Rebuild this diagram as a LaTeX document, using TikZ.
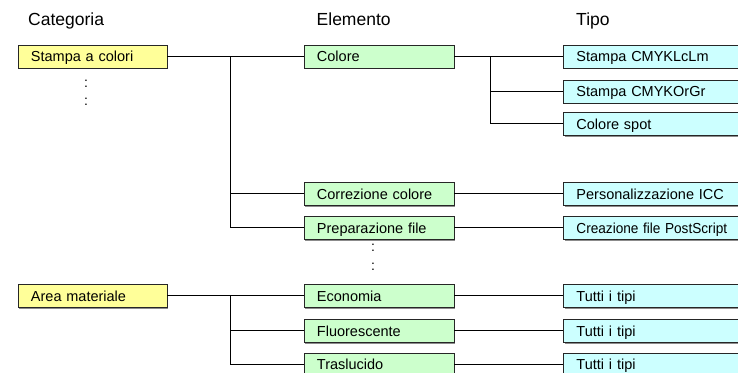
\documentclass[tikz,border=0pt]{standalone}
\usepackage{fontspec}
\setmainfont{Liberation Sans}
\usetikzlibrary{shadows}
\definecolor{catfill}{HTML}{FFFF99}
\definecolor{elfill}{HTML}{CCFFCC}
\definecolor{tipofill}{HTML}{CCFFFF}

\begin{document}
\begin{tikzpicture}[x=1bp,y=-1bp,
  box/.style={draw=black!85, line width=0.9bp, rectangle, anchor=north west,
    minimum height=23bp, text height=10.7bp, text depth=0pt, inner xsep=13bp,
    align=left, font=\fontsize{14.5bp}{17bp}\selectfont,
    drop shadow={shadow xshift=1.2bp, shadow yshift=-1.2bp, fill=black!45, opacity=1}},
  cat/.style={box, fill=catfill, text width=123bp},
  el/.style={box, fill=elfill, text width=124bp},
  tipo/.style={box, fill=tipofill, text width=180bp},
  head/.style={anchor=base west, inner sep=0pt, font=\fontsize{17.5bp}{20bp}\selectfont},
  link/.style={draw=black, line width=1bp},
  more/.style={inner sep=0pt, font=\fontsize{14bp}{16bp}\selectfont}]

\useasboundingbox (0,0) rectangle (738,372);
\clip (0,0) rectangle (738,372);

% column headings
\node[head] (hcat) at (28,25) {Categoria};
\node[head] (hel)  at (316.5,25) {Elemento};
\node[head] (htipo) at (576,25) {Tipo};

% categories
\node[cat] (cat1) at (17.5,44.5) {Stampa a colori};
\node[cat] (cat2) at (17.5,284) {Area materiale};

% elements
\node[el] (el1) at (303.5,44.5) {Colore};
\node[el] (el2) at (303.5,182) {Correzione colore};
\node[el] (el3) at (303.5,216) {Preparazione file};
\node[el] (el4) at (303.5,284) {Economia};
\node[el] (el5) at (303.5,319) {Fluorescente};
\node[el] (el6) at (303.5,352.5) {Traslucido};

% types
\node[tipo] (tipo1) at (563,44.5) {Stampa CMYKLcLm};
\node[tipo] (tipo2) at (563,79.5) {Stampa CMYKOrGr};
\node[tipo] (tipo3) at (563,112) {Colore spot};
\node[tipo] (tipo4) at (563,182) {Personalizzazione ICC};
\node[tipo] (tipo5) at (563,216) {\scalebox{0.94}[1]{Creazione file PostScript}};
\node[tipo] (tipo6) at (563,284) {Tutti i tipi};
\node[tipo] (tipo7) at (563,319) {Tutti i tipi};
\node[tipo] (tipo8) at (563,352.5) {Tutti i tipi};

% omitted entries
\node[more] (moreA1) at (86,83.5) {:};
\node[more] (moreA2) at (86,101.5) {:};
\node[more] (moreB1) at (373,247.5) {:};
\node[more] (moreB2) at (373,267) {:};

% branch columns
\coordinate (busA) at (230,0);
\coordinate (busB) at (490,0);

% category -> element
\draw[link] (cat1.east) -- (el1.west);
\draw[link] (busA |- el1.west) |- (el3.west);
\draw[link] (busA |- el2.west) -- (el2.west);
\draw[link] (cat2.east) -- (el4.west);
\draw[link] (busA |- el4.west) |- (el6.west);
\draw[link] (busA |- el5.west) -- (el5.west);

% element -> type
\draw[link] (el1.east) -- (tipo1.west);
\draw[link] (busB |- el1.east) |- (tipo3.west);
\draw[link] (busB |- tipo2.west) -- (tipo2.west);
\draw[link] (el2.east) -- (tipo4.west);
\draw[link] (el3.east) -- (tipo5.west);
\draw[link] (el4.east) -- (tipo6.west);
\draw[link] (el5.east) -- (tipo7.west);
\draw[link] (el6.east) -- (tipo8.west);
\end{tikzpicture}
\end{document}
